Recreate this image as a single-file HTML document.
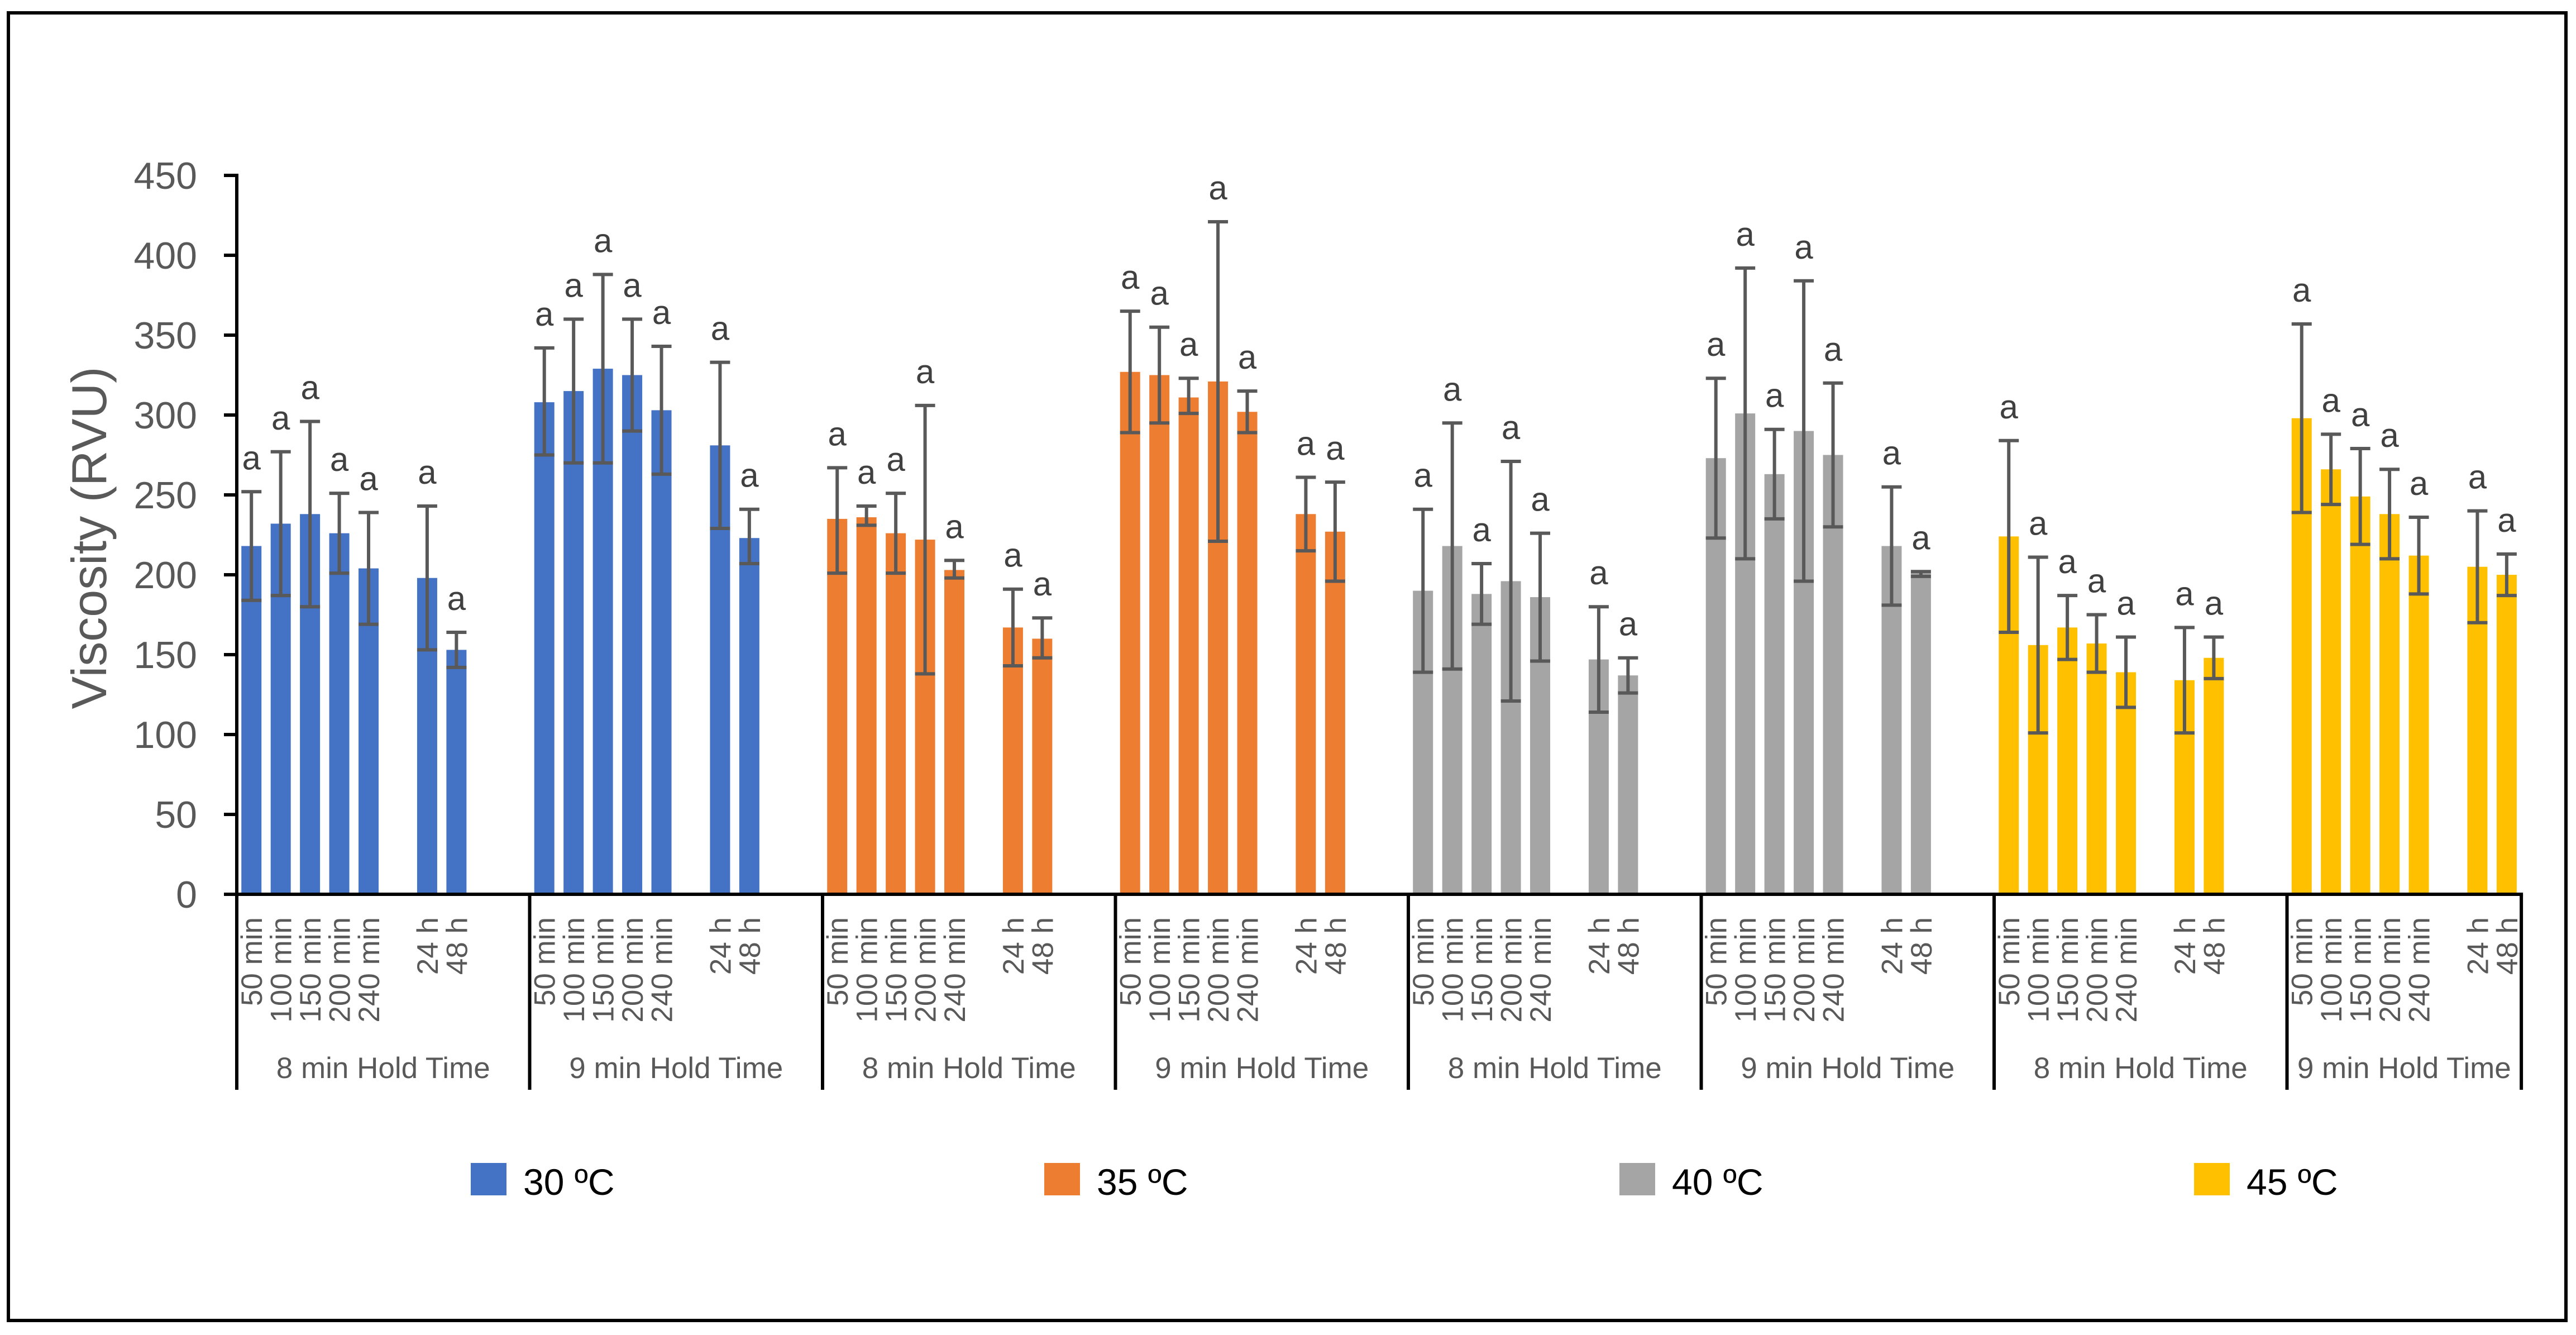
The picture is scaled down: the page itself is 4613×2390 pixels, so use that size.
<!DOCTYPE html>
<html><head><meta charset="utf-8"><style>
html,body{margin:0;padding:0;background:#fff;}
svg{display:block;font-family:"Liberation Sans",sans-serif;}
</style></head><body>
<svg id="chart" width="4613" height="2390" viewBox="0 0 4613 2390" xmlns="http://www.w3.org/2000/svg">
<rect x="15" y="23" width="4580" height="2341" fill="#fff" stroke="#000" stroke-width="6"/>
<g id="plot"></g>
</svg>
<script>
const subCategories = ["50 min","100 min","150 min","200 min","240 min","24 h","48 h"];
const groupLabels = ["8 min Hold Time","9 min Hold Time","8 min Hold Time","9 min Hold Time","8 min Hold Time","9 min Hold Time","8 min Hold Time","9 min Hold Time"];
const seriesNames = ["30 ºC","35 ºC","40 ºC","45 ºC"];
const seriesColors = ["#4472C4","#ED7D31","#A5A5A5","#FFC000"];
const yTicks = [0,50,100,150,200,250,300,350,400,450];
const values = [
 [218,232,238,226,204,198,153],[308,315,329,325,303,281,223],
 [235,236,226,222,203,167,160],[327,325,311,321,302,238,227],
 [190,218,188,196,186,147,137],[273,301,263,290,275,218,201],
 [224,156,167,157,139,134,148],[298,266,249,238,212,205,200]
];
const errHigh = [
 [252,277,296,251,239,243,164],[342,360,388,360,343,333,241],
 [267,243,251,306,209,191,173],[365,355,323,421,315,261,258],
 [241,295,207,271,226,180,148],[323,392,291,384,320,255,202],
 [284,211,187,175,161,167,161],[357,288,279,266,236,240,213]
];
const errLow = [
 [184,187,180,201,169,153,142],[275,270,270,290,263,229,207],
 [201,231,201,138,198,143,148],[289,295,301,221,289,215,196],
 [139,141,169,121,146,114,126],[223,210,235,196,230,181,199],
 [164,101,147,139,117,101,135],[239,244,219,210,188,170,187]
];
const sigLetters = [
 ["a","a","a","a","a","a","a"],["a","a","a","a","a","a","a"],
 ["a","a","a","a","a","a","a"],["a","a","a","a","a","a","a"],
 ["a","a","a","a","a","a","a"],["a","a","a","a","a","a","a"],
 ["a","a","a","a","a","a","a"],["a","a","a","a","a","a","a"]
];

const NS="http://www.w3.org/2000/svg";
const plot=document.getElementById('plot');
const X0=424, Y0=1601, PX_PER=2.86, SLOT=52.45, BARW=36, GROUP=10;
const slotIdx=[0,1,2,3,4,6,7];
function y(v){return Y0 - v*PX_PER;}
function xSlot(g,i){return X0 + (g*GROUP + slotIdx[i])*SLOT + SLOT/2;}
function mk(tag,attrs){const e=document.createElementNS(NS,tag);for(const k in attrs)e.setAttribute(k,attrs[k]);plot.appendChild(e);return e;}

const yt=mk('text',{x:0,y:0,transform:'translate(190,963) rotate(-90)','text-anchor':'middle','font-size':88,fill:'#595959'});
yt.textContent='Viscosity (RVU)';



yTicks.forEach(t=>{
  const ln=mk('line',{x1:401,x2:X0,y1:y(t),y2:y(t),stroke:'#000','stroke-width':6});
  
  
  const tx=mk('text',{x:353,y:y(t)+24,'text-anchor':'end','font-size':68,fill:'#595959'});
  tx.textContent=t;
  
  
});

const lastSlot = 7*GROUP + 8;
values.forEach((grp,g)=>{
  const si=Math.floor(g/2);
  grp.forEach((v,i)=>{
    const cx=xSlot(g,i);
    const r=mk('rect',{x:cx-BARW/2,y:y(v),width:BARW,height:v*PX_PER,fill:seriesColors[si]});
    
    
    const hi=y(errHigh[g][i]), lo=y(errLow[g][i]);
    const e1=mk('line',{x1:cx,x2:cx,y1:hi,y2:lo,stroke:'#595959','stroke-width':6});
    
    
    [hi,lo].forEach(yy=>{
      const c=mk('line',{x1:cx-18,x2:cx+18,y1:yy,y2:yy,stroke:'#595959','stroke-width':6});
      
      
    });
    const a=mk('text',{x:cx,y:hi-40,'text-anchor':'middle','font-size':60,fill:'#404040'});
    a.textContent=sigLetters[g][i];
    
    
    const cl=mk('text',{x:0,y:0,transform:`translate(${cx+19},1642) rotate(-90)`,'text-anchor':'end','font-size':53,fill:'#595959'});
    cl.textContent=subCategories[i];
    
    
  });
  const gs=X0+g*GROUP*SLOT, ge=Math.min(X0+(g+1)*GROUP*SLOT, X0+lastSlot*SLOT);
  const gl=mk('text',{x:(gs+ge)/2,y:1930,'text-anchor':'middle','font-size':53,fill:'#595959'});
  gl.textContent=groupLabels[g];
  
  
});

for(let g=0;g<=8;g++){
  const xx = g<8 ? X0+g*GROUP*SLOT : X0+lastSlot*SLOT;
  const d=mk('line',{x1:xx,x2:xx,y1:Y0,y2:1951,stroke:'#000','stroke-width':6});
  
  
}
const xa=mk('line',{x1:401,x2:X0+lastSlot*SLOT+3,y1:Y0,y2:Y0,stroke:'#000','stroke-width':6});


const ya=mk('line',{x1:X0,x2:X0,y1:y(450)-3,y2:Y0,stroke:'#000','stroke-width':6});



const legX=[843,1870,2900,3929];
seriesNames.forEach((n,i)=>{
  const s=mk('rect',{x:legX[i],y:2082,width:64,height:58,fill:seriesColors[i]});
  
  
  const t=mk('text',{x:legX[i]+94,y:2139,'font-size':66,fill:'#000'});
  t.textContent=n;
  
  
});
</script>
</body></html>
